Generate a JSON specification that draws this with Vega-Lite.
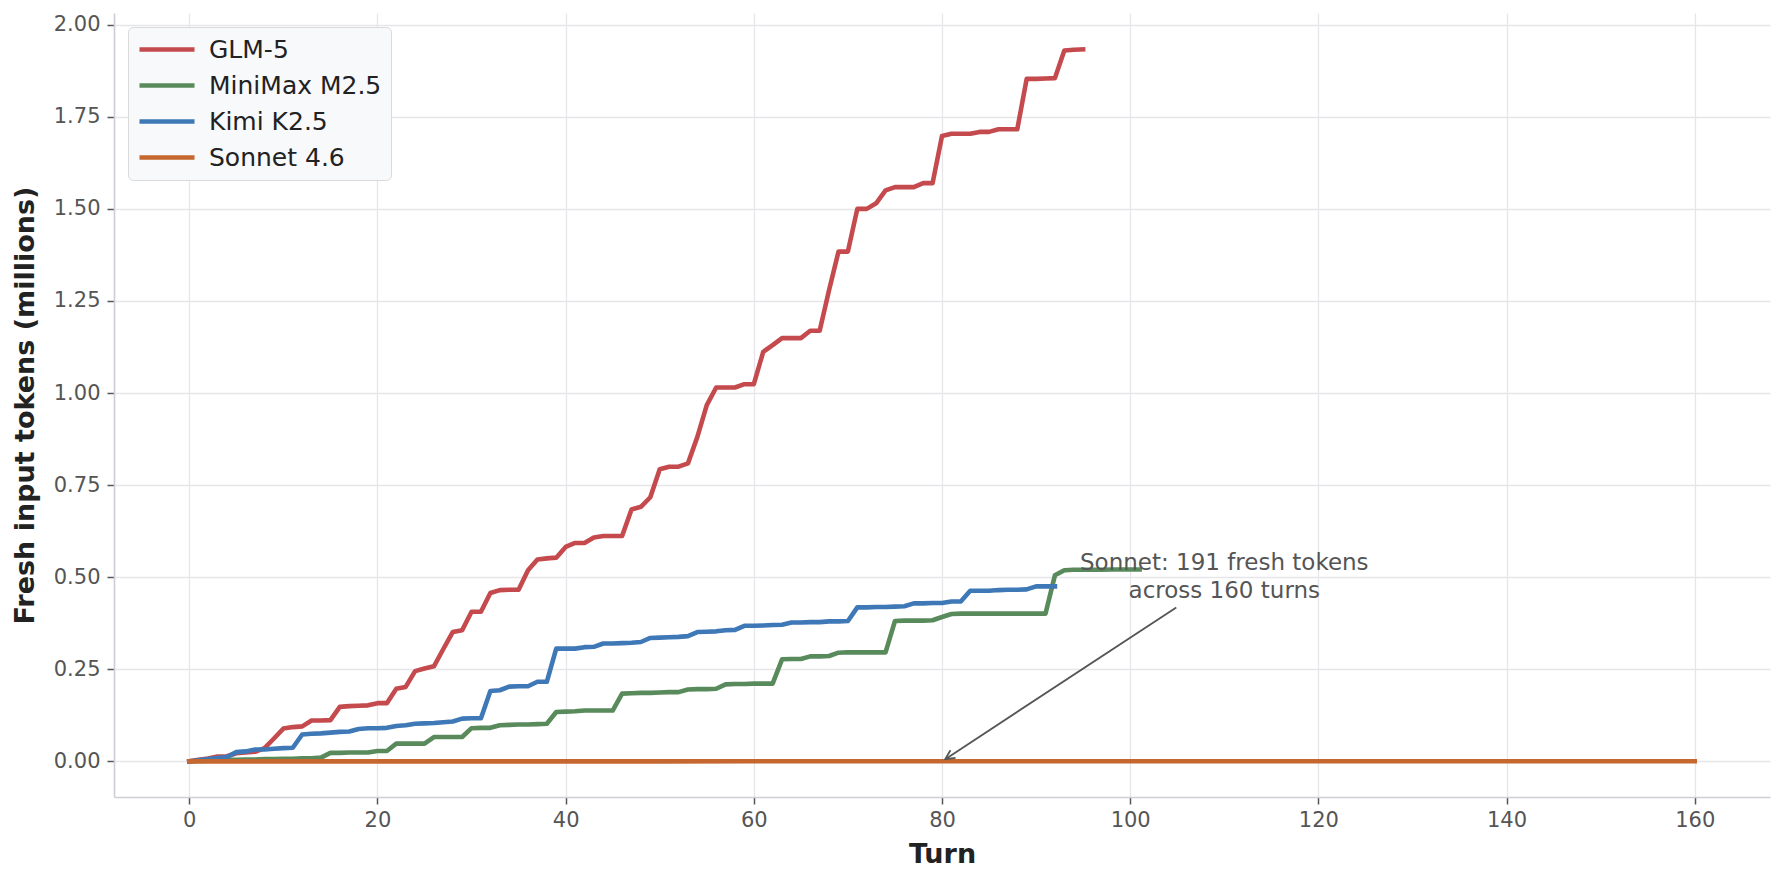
{
"$schema": "https://vega.github.io/schema/vega-lite/v6.json",
"width": 1656, "height": 784,
"autosize": {"type": "none"},
"padding": {"left": 114, "top": 13, "right": 14, "bottom": 87},
"background": "white",
"config": {"font": "DejaVu Sans", "view": {"stroke": null}},
"datasets": {
"lines": [
{"model":"GLM-5","turn":0,"tokens":0},{"model":"GLM-5","turn":1,"tokens":0.004},{"model":"GLM-5","turn":2,"tokens":0.008},{"model":"GLM-5","turn":3,"tokens":0.013},{"model":"GLM-5","turn":4,"tokens":0.014},{"model":"GLM-5","turn":5,"tokens":0.022},{"model":"GLM-5","turn":6,"tokens":0.024},{"model":"GLM-5","turn":7,"tokens":0.026},{"model":"GLM-5","turn":8,"tokens":0.036},{"model":"GLM-5","turn":9,"tokens":0.062},
{"model":"GLM-5","turn":10,"tokens":0.089},{"model":"GLM-5","turn":11,"tokens":0.093},{"model":"GLM-5","turn":12,"tokens":0.095},{"model":"GLM-5","turn":13,"tokens":0.111},{"model":"GLM-5","turn":14,"tokens":0.111},{"model":"GLM-5","turn":15,"tokens":0.112},{"model":"GLM-5","turn":16,"tokens":0.148},{"model":"GLM-5","turn":17,"tokens":0.150},{"model":"GLM-5","turn":18,"tokens":0.151},{"model":"GLM-5","turn":19,"tokens":0.152},
{"model":"GLM-5","turn":20,"tokens":0.158},{"model":"GLM-5","turn":21,"tokens":0.158},{"model":"GLM-5","turn":22,"tokens":0.197},{"model":"GLM-5","turn":23,"tokens":0.202},{"model":"GLM-5","turn":24,"tokens":0.245},{"model":"GLM-5","turn":25,"tokens":0.252},{"model":"GLM-5","turn":26,"tokens":0.258},{"model":"GLM-5","turn":27,"tokens":0.305},{"model":"GLM-5","turn":28,"tokens":0.351},{"model":"GLM-5","turn":29,"tokens":0.356},
{"model":"GLM-5","turn":30,"tokens":0.406},{"model":"GLM-5","turn":31,"tokens":0.406},{"model":"GLM-5","turn":32,"tokens":0.457},{"model":"GLM-5","turn":33,"tokens":0.465},{"model":"GLM-5","turn":34,"tokens":0.466},{"model":"GLM-5","turn":35,"tokens":0.466},{"model":"GLM-5","turn":36,"tokens":0.519},{"model":"GLM-5","turn":37,"tokens":0.548},{"model":"GLM-5","turn":38,"tokens":0.551},{"model":"GLM-5","turn":39,"tokens":0.553},
{"model":"GLM-5","turn":40,"tokens":0.582},{"model":"GLM-5","turn":41,"tokens":0.593},{"model":"GLM-5","turn":42,"tokens":0.593},{"model":"GLM-5","turn":43,"tokens":0.608},{"model":"GLM-5","turn":44,"tokens":0.612},{"model":"GLM-5","turn":45,"tokens":0.612},{"model":"GLM-5","turn":46,"tokens":0.612},{"model":"GLM-5","turn":47,"tokens":0.684},{"model":"GLM-5","turn":48,"tokens":0.691},{"model":"GLM-5","turn":49,"tokens":0.717},
{"model":"GLM-5","turn":50,"tokens":0.793},{"model":"GLM-5","turn":51,"tokens":0.800},{"model":"GLM-5","turn":52,"tokens":0.800},{"model":"GLM-5","turn":53,"tokens":0.809},{"model":"GLM-5","turn":54,"tokens":0.881},{"model":"GLM-5","turn":55,"tokens":0.967},{"model":"GLM-5","turn":56,"tokens":1.015},{"model":"GLM-5","turn":57,"tokens":1.015},{"model":"GLM-5","turn":58,"tokens":1.015},{"model":"GLM-5","turn":59,"tokens":1.024},
{"model":"GLM-5","turn":60,"tokens":1.024},{"model":"GLM-5","turn":61,"tokens":1.112},{"model":"GLM-5","turn":62,"tokens":1.130},{"model":"GLM-5","turn":63,"tokens":1.149},{"model":"GLM-5","turn":64,"tokens":1.149},{"model":"GLM-5","turn":65,"tokens":1.149},{"model":"GLM-5","turn":66,"tokens":1.169},{"model":"GLM-5","turn":67,"tokens":1.169},{"model":"GLM-5","turn":68,"tokens":1.280},{"model":"GLM-5","turn":69,"tokens":1.384},
{"model":"GLM-5","turn":70,"tokens":1.384},{"model":"GLM-5","turn":71,"tokens":1.500},{"model":"GLM-5","turn":72,"tokens":1.500},{"model":"GLM-5","turn":73,"tokens":1.515},{"model":"GLM-5","turn":74,"tokens":1.550},{"model":"GLM-5","turn":75,"tokens":1.559},{"model":"GLM-5","turn":76,"tokens":1.559},{"model":"GLM-5","turn":77,"tokens":1.559},{"model":"GLM-5","turn":78,"tokens":1.570},{"model":"GLM-5","turn":79,"tokens":1.570},
{"model":"GLM-5","turn":80,"tokens":1.698},{"model":"GLM-5","turn":81,"tokens":1.704},{"model":"GLM-5","turn":82,"tokens":1.704},{"model":"GLM-5","turn":83,"tokens":1.704},{"model":"GLM-5","turn":84,"tokens":1.709},{"model":"GLM-5","turn":85,"tokens":1.709},{"model":"GLM-5","turn":86,"tokens":1.716},{"model":"GLM-5","turn":87,"tokens":1.716},{"model":"GLM-5","turn":88,"tokens":1.716},{"model":"GLM-5","turn":89,"tokens":1.853},
{"model":"GLM-5","turn":90,"tokens":1.853},{"model":"GLM-5","turn":91,"tokens":1.854},{"model":"GLM-5","turn":92,"tokens":1.855},{"model":"GLM-5","turn":93,"tokens":1.930},{"model":"GLM-5","turn":94,"tokens":1.932},{"model":"GLM-5","turn":95,"tokens":1.933},
{"model":"MiniMax M2.5","turn":0,"tokens":0},{"model":"MiniMax M2.5","turn":1,"tokens":0.001},{"model":"MiniMax M2.5","turn":2,"tokens":0.002},{"model":"MiniMax M2.5","turn":3,"tokens":0.003},{"model":"MiniMax M2.5","turn":4,"tokens":0.004},{"model":"MiniMax M2.5","turn":5,"tokens":0.004},{"model":"MiniMax M2.5","turn":6,"tokens":0.005},{"model":"MiniMax M2.5","turn":7,"tokens":0.005},{"model":"MiniMax M2.5","turn":8,"tokens":0.006},{"model":"MiniMax M2.5","turn":9,"tokens":0.006},
{"model":"MiniMax M2.5","turn":10,"tokens":0.007},{"model":"MiniMax M2.5","turn":11,"tokens":0.007},{"model":"MiniMax M2.5","turn":12,"tokens":0.008},{"model":"MiniMax M2.5","turn":13,"tokens":0.008},{"model":"MiniMax M2.5","turn":14,"tokens":0.010},{"model":"MiniMax M2.5","turn":15,"tokens":0.023},{"model":"MiniMax M2.5","turn":16,"tokens":0.023},{"model":"MiniMax M2.5","turn":17,"tokens":0.024},{"model":"MiniMax M2.5","turn":18,"tokens":0.024},{"model":"MiniMax M2.5","turn":19,"tokens":0.024},
{"model":"MiniMax M2.5","turn":20,"tokens":0.028},{"model":"MiniMax M2.5","turn":21,"tokens":0.028},{"model":"MiniMax M2.5","turn":22,"tokens":0.048},{"model":"MiniMax M2.5","turn":23,"tokens":0.048},{"model":"MiniMax M2.5","turn":24,"tokens":0.048},{"model":"MiniMax M2.5","turn":25,"tokens":0.048},{"model":"MiniMax M2.5","turn":26,"tokens":0.066},{"model":"MiniMax M2.5","turn":27,"tokens":0.066},{"model":"MiniMax M2.5","turn":28,"tokens":0.066},{"model":"MiniMax M2.5","turn":29,"tokens":0.066},
{"model":"MiniMax M2.5","turn":30,"tokens":0.090},{"model":"MiniMax M2.5","turn":31,"tokens":0.091},{"model":"MiniMax M2.5","turn":32,"tokens":0.091},{"model":"MiniMax M2.5","turn":33,"tokens":0.098},{"model":"MiniMax M2.5","turn":34,"tokens":0.099},{"model":"MiniMax M2.5","turn":35,"tokens":0.100},{"model":"MiniMax M2.5","turn":36,"tokens":0.100},{"model":"MiniMax M2.5","turn":37,"tokens":0.101},{"model":"MiniMax M2.5","turn":38,"tokens":0.102},{"model":"MiniMax M2.5","turn":39,"tokens":0.134},
{"model":"MiniMax M2.5","turn":40,"tokens":0.135},{"model":"MiniMax M2.5","turn":41,"tokens":0.136},{"model":"MiniMax M2.5","turn":42,"tokens":0.138},{"model":"MiniMax M2.5","turn":43,"tokens":0.138},{"model":"MiniMax M2.5","turn":44,"tokens":0.138},{"model":"MiniMax M2.5","turn":45,"tokens":0.138},{"model":"MiniMax M2.5","turn":46,"tokens":0.184},{"model":"MiniMax M2.5","turn":47,"tokens":0.185},{"model":"MiniMax M2.5","turn":48,"tokens":0.186},{"model":"MiniMax M2.5","turn":49,"tokens":0.186},
{"model":"MiniMax M2.5","turn":50,"tokens":0.187},{"model":"MiniMax M2.5","turn":51,"tokens":0.188},{"model":"MiniMax M2.5","turn":52,"tokens":0.188},{"model":"MiniMax M2.5","turn":53,"tokens":0.195},{"model":"MiniMax M2.5","turn":54,"tokens":0.196},{"model":"MiniMax M2.5","turn":55,"tokens":0.196},{"model":"MiniMax M2.5","turn":56,"tokens":0.197},{"model":"MiniMax M2.5","turn":57,"tokens":0.209},{"model":"MiniMax M2.5","turn":58,"tokens":0.210},{"model":"MiniMax M2.5","turn":59,"tokens":0.210},
{"model":"MiniMax M2.5","turn":60,"tokens":0.211},{"model":"MiniMax M2.5","turn":61,"tokens":0.211},{"model":"MiniMax M2.5","turn":62,"tokens":0.211},{"model":"MiniMax M2.5","turn":63,"tokens":0.277},{"model":"MiniMax M2.5","turn":64,"tokens":0.278},{"model":"MiniMax M2.5","turn":65,"tokens":0.278},{"model":"MiniMax M2.5","turn":66,"tokens":0.285},{"model":"MiniMax M2.5","turn":67,"tokens":0.285},{"model":"MiniMax M2.5","turn":68,"tokens":0.286},{"model":"MiniMax M2.5","turn":69,"tokens":0.295},
{"model":"MiniMax M2.5","turn":70,"tokens":0.296},{"model":"MiniMax M2.5","turn":71,"tokens":0.296},{"model":"MiniMax M2.5","turn":72,"tokens":0.296},{"model":"MiniMax M2.5","turn":73,"tokens":0.296},{"model":"MiniMax M2.5","turn":74,"tokens":0.296},{"model":"MiniMax M2.5","turn":75,"tokens":0.381},{"model":"MiniMax M2.5","turn":76,"tokens":0.382},{"model":"MiniMax M2.5","turn":77,"tokens":0.382},{"model":"MiniMax M2.5","turn":78,"tokens":0.382},{"model":"MiniMax M2.5","turn":79,"tokens":0.383},
{"model":"MiniMax M2.5","turn":80,"tokens":0.392},{"model":"MiniMax M2.5","turn":81,"tokens":0.400},{"model":"MiniMax M2.5","turn":82,"tokens":0.401},{"model":"MiniMax M2.5","turn":83,"tokens":0.401},{"model":"MiniMax M2.5","turn":84,"tokens":0.401},{"model":"MiniMax M2.5","turn":85,"tokens":0.401},{"model":"MiniMax M2.5","turn":86,"tokens":0.401},{"model":"MiniMax M2.5","turn":87,"tokens":0.401},{"model":"MiniMax M2.5","turn":88,"tokens":0.401},{"model":"MiniMax M2.5","turn":89,"tokens":0.401},
{"model":"MiniMax M2.5","turn":90,"tokens":0.401},{"model":"MiniMax M2.5","turn":91,"tokens":0.401},{"model":"MiniMax M2.5","turn":92,"tokens":0.505},{"model":"MiniMax M2.5","turn":93,"tokens":0.519},{"model":"MiniMax M2.5","turn":94,"tokens":0.520},{"model":"MiniMax M2.5","turn":95,"tokens":0.520},{"model":"MiniMax M2.5","turn":96,"tokens":0.520},{"model":"MiniMax M2.5","turn":97,"tokens":0.520},{"model":"MiniMax M2.5","turn":98,"tokens":0.521},{"model":"MiniMax M2.5","turn":99,"tokens":0.521},
{"model":"MiniMax M2.5","turn":100,"tokens":0.521},{"model":"MiniMax M2.5","turn":101,"tokens":0.521},
{"model":"Kimi K2.5","turn":0,"tokens":0},{"model":"Kimi K2.5","turn":1,"tokens":0.003},{"model":"Kimi K2.5","turn":2,"tokens":0.006},{"model":"Kimi K2.5","turn":3,"tokens":0.009},{"model":"Kimi K2.5","turn":4,"tokens":0.012},{"model":"Kimi K2.5","turn":5,"tokens":0.025},{"model":"Kimi K2.5","turn":6,"tokens":0.027},{"model":"Kimi K2.5","turn":7,"tokens":0.032},{"model":"Kimi K2.5","turn":8,"tokens":0.032},{"model":"Kimi K2.5","turn":9,"tokens":0.034},
{"model":"Kimi K2.5","turn":10,"tokens":0.036},{"model":"Kimi K2.5","turn":11,"tokens":0.037},{"model":"Kimi K2.5","turn":12,"tokens":0.073},{"model":"Kimi K2.5","turn":13,"tokens":0.075},{"model":"Kimi K2.5","turn":14,"tokens":0.076},{"model":"Kimi K2.5","turn":15,"tokens":0.078},{"model":"Kimi K2.5","turn":16,"tokens":0.080},{"model":"Kimi K2.5","turn":17,"tokens":0.081},{"model":"Kimi K2.5","turn":18,"tokens":0.088},{"model":"Kimi K2.5","turn":19,"tokens":0.090},
{"model":"Kimi K2.5","turn":20,"tokens":0.090},{"model":"Kimi K2.5","turn":21,"tokens":0.091},{"model":"Kimi K2.5","turn":22,"tokens":0.096},{"model":"Kimi K2.5","turn":23,"tokens":0.098},{"model":"Kimi K2.5","turn":24,"tokens":0.102},{"model":"Kimi K2.5","turn":25,"tokens":0.103},{"model":"Kimi K2.5","turn":26,"tokens":0.104},{"model":"Kimi K2.5","turn":27,"tokens":0.106},{"model":"Kimi K2.5","turn":28,"tokens":0.108},{"model":"Kimi K2.5","turn":29,"tokens":0.116},
{"model":"Kimi K2.5","turn":30,"tokens":0.117},{"model":"Kimi K2.5","turn":31,"tokens":0.117},{"model":"Kimi K2.5","turn":32,"tokens":0.191},{"model":"Kimi K2.5","turn":33,"tokens":0.193},{"model":"Kimi K2.5","turn":34,"tokens":0.203},{"model":"Kimi K2.5","turn":35,"tokens":0.204},{"model":"Kimi K2.5","turn":36,"tokens":0.204},{"model":"Kimi K2.5","turn":37,"tokens":0.216},{"model":"Kimi K2.5","turn":38,"tokens":0.216},{"model":"Kimi K2.5","turn":39,"tokens":0.306},
{"model":"Kimi K2.5","turn":40,"tokens":0.306},{"model":"Kimi K2.5","turn":41,"tokens":0.306},{"model":"Kimi K2.5","turn":42,"tokens":0.310},{"model":"Kimi K2.5","turn":43,"tokens":0.311},{"model":"Kimi K2.5","turn":44,"tokens":0.320},{"model":"Kimi K2.5","turn":45,"tokens":0.320},{"model":"Kimi K2.5","turn":46,"tokens":0.321},{"model":"Kimi K2.5","turn":47,"tokens":0.322},{"model":"Kimi K2.5","turn":48,"tokens":0.324},{"model":"Kimi K2.5","turn":49,"tokens":0.335},
{"model":"Kimi K2.5","turn":50,"tokens":0.336},{"model":"Kimi K2.5","turn":51,"tokens":0.337},{"model":"Kimi K2.5","turn":52,"tokens":0.338},{"model":"Kimi K2.5","turn":53,"tokens":0.340},{"model":"Kimi K2.5","turn":54,"tokens":0.351},{"model":"Kimi K2.5","turn":55,"tokens":0.352},{"model":"Kimi K2.5","turn":56,"tokens":0.353},{"model":"Kimi K2.5","turn":57,"tokens":0.356},{"model":"Kimi K2.5","turn":58,"tokens":0.357},{"model":"Kimi K2.5","turn":59,"tokens":0.368},
{"model":"Kimi K2.5","turn":60,"tokens":0.368},{"model":"Kimi K2.5","turn":61,"tokens":0.369},{"model":"Kimi K2.5","turn":62,"tokens":0.370},{"model":"Kimi K2.5","turn":63,"tokens":0.371},{"model":"Kimi K2.5","turn":64,"tokens":0.377},{"model":"Kimi K2.5","turn":65,"tokens":0.377},{"model":"Kimi K2.5","turn":66,"tokens":0.378},{"model":"Kimi K2.5","turn":67,"tokens":0.378},{"model":"Kimi K2.5","turn":68,"tokens":0.380},{"model":"Kimi K2.5","turn":69,"tokens":0.380},
{"model":"Kimi K2.5","turn":70,"tokens":0.381},{"model":"Kimi K2.5","turn":71,"tokens":0.418},{"model":"Kimi K2.5","turn":72,"tokens":0.418},{"model":"Kimi K2.5","turn":73,"tokens":0.419},{"model":"Kimi K2.5","turn":74,"tokens":0.419},{"model":"Kimi K2.5","turn":75,"tokens":0.420},{"model":"Kimi K2.5","turn":76,"tokens":0.421},{"model":"Kimi K2.5","turn":77,"tokens":0.429},{"model":"Kimi K2.5","turn":78,"tokens":0.429},{"model":"Kimi K2.5","turn":79,"tokens":0.430},
{"model":"Kimi K2.5","turn":80,"tokens":0.430},{"model":"Kimi K2.5","turn":81,"tokens":0.434},{"model":"Kimi K2.5","turn":82,"tokens":0.434},{"model":"Kimi K2.5","turn":83,"tokens":0.463},{"model":"Kimi K2.5","turn":84,"tokens":0.463},{"model":"Kimi K2.5","turn":85,"tokens":0.463},{"model":"Kimi K2.5","turn":86,"tokens":0.465},{"model":"Kimi K2.5","turn":87,"tokens":0.466},{"model":"Kimi K2.5","turn":88,"tokens":0.466},{"model":"Kimi K2.5","turn":89,"tokens":0.467},
{"model":"Kimi K2.5","turn":90,"tokens":0.475},{"model":"Kimi K2.5","turn":91,"tokens":0.475},{"model":"Kimi K2.5","turn":92,"tokens":0.475},
{"model":"Sonnet 4.6","turn":0,"tokens":0},{"model":"Sonnet 4.6","turn":10,"tokens":0.000012},{"model":"Sonnet 4.6","turn":20,"tokens":0.000024},{"model":"Sonnet 4.6","turn":30,"tokens":0.000036},{"model":"Sonnet 4.6","turn":40,"tokens":0.000048},{"model":"Sonnet 4.6","turn":50,"tokens":0.00006},{"model":"Sonnet 4.6","turn":60,"tokens":0.000072},{"model":"Sonnet 4.6","turn":70,"tokens":0.000084},{"model":"Sonnet 4.6","turn":80,"tokens":0.000096},
{"model":"Sonnet 4.6","turn":90,"tokens":0.000108},{"model":"Sonnet 4.6","turn":100,"tokens":0.00012},{"model":"Sonnet 4.6","turn":110,"tokens":0.000131},{"model":"Sonnet 4.6","turn":120,"tokens":0.000143},{"model":"Sonnet 4.6","turn":130,"tokens":0.000155},{"model":"Sonnet 4.6","turn":140,"tokens":0.000167},{"model":"Sonnet 4.6","turn":150,"tokens":0.000179},{"model":"Sonnet 4.6","turn":160,"tokens":0.000191}
],
"note": [{"turn": 110, "tokens": 0.5, "label": "Sonnet: 191 fresh tokens\nacross 160 turns"}],
"arrow": [{"x1": 104.9, "y1": 0.418, "x2": 80.35, "y2": 0.006}]
},
"layer": [
{
"data": {"name": "lines"},
"mark": {"type": "line", "strokeCap": "square", "strokeJoin": "round"},
"encoding": {
"x": {"field": "turn", "type": "quantitative", "title": "Turn",
"scale": {"domain": [-8, 168], "nice": false, "zero": false},
"axis": {"values": [0,20,40,60,80,100,120,140,160], "format": "d", "labelFontSize": 21, "labelColor": "#555555", "labelPadding": 5, "labelFlush": false,
"tickColor": "#555555", "tickSize": 7, "tickWidth": 1.5,
"domainColor": "#cdcdd6", "domainWidth": 1.6,
"grid": true, "gridColor": "#e6e6ea", "gridWidth": 1.3,
"titleFontSize": 27, "titleFontWeight": "bold", "titleColor": "#222222", "titlePadding": 11}},
"y": {"field": "tokens", "type": "quantitative", "title": "Fresh input tokens (millions)",
"scale": {"domain": [-0.0968, 2.0318], "nice": false, "zero": false},
"axis": {"values": [0,0.25,0.5,0.75,1,1.25,1.5,1.75,2], "format": ".2f", "labelFontSize": 21, "labelColor": "#555555", "labelPadding": 7, "labelFlush": false,
"tickColor": "#555555", "tickSize": 7, "tickWidth": 1.5,
"domainColor": "#cdcdd6", "domainWidth": 1.6,
"grid": true, "gridColor": "#e6e6ea", "gridWidth": 1.3,
"titleFontSize": 27, "titleFontWeight": "bold", "titleColor": "#222222", "titlePadding": 14}},
"color": {"field": "model", "type": "nominal", "title": null,
"scale": {"domain": ["GLM-5", "MiniMax M2.5", "Kimi K2.5", "Sonnet 4.6"], "range": ["#C44A4E", "#588A5C", "#3E78B6", "#C6672F"]},
"legend": {"orient": "none", "legendX": 14, "legendY": 14, "title": null, "symbolType": "M -2.5 0 L 2.5 0", "symbolSize": 484, "labelFontSize": 25, "labelColor": "#222222", "labelLimit": 600, "labelOffset": 28.5, "fillColor": "#F8F9FB", "strokeColor": "#DADADA", "cornerRadius": 5, "padding": 9, "rowPadding": 9, "symbolOffset": 16.5}},
"strokeWidth": {"field": "model", "type": "nominal", "title": null,
"scale": {"domain": ["GLM-5", "MiniMax M2.5", "Kimi K2.5", "Sonnet 4.6"], "range": [4.6, 4.6, 4.6, 6.2]},
"legend": {"orient": "none", "legendX": 14, "legendY": 14, "title": null, "symbolType": "M -2.5 0 L 2.5 0", "symbolSize": 484, "labelFontSize": 25, "labelColor": "#222222", "labelLimit": 600, "labelOffset": 28.5, "fillColor": "#F8F9FB", "strokeColor": "#DADADA", "cornerRadius": 5, "padding": 9, "rowPadding": 9, "symbolOffset": 16.5}}
}
},
{
"data": {"name": "arrow"},
"mark": {"type": "rule", "color": "#555555", "strokeWidth": 1.8},
"encoding": {
"x": {"field": "x1", "type": "quantitative", "title": "Turn", "scale": {"domain": [-8, 168], "nice": false, "zero": false}},
"y": {"field": "y1", "type": "quantitative", "title": "Fresh input tokens (millions)", "scale": {"domain": [-0.0968, 2.0318], "nice": false, "zero": false}},
"x2": {"field": "x2"},
"y2": {"field": "y2"}
}
},
{
"data": {"name": "arrow"},
"mark": {"type": "point", "shape": "M -0.5 1 L 0 0 L 0.5 1", "angle": 236.7, "size": 338, "filled": false, "stroke": "#555555", "strokeWidth": 1.8, "opacity": 1},
"encoding": {
"x": {"field": "x2", "type": "quantitative", "title": "Turn", "scale": {"domain": [-8, 168], "nice": false, "zero": false}},
"y": {"field": "y2", "type": "quantitative", "title": "Fresh input tokens (millions)", "scale": {"domain": [-0.0968, 2.0318], "nice": false, "zero": false}}
}
},
{
"data": {"name": "note"},
"mark": {"type": "text", "align": "center", "baseline": "middle", "fontSize": 23, "color": "#555555", "lineBreak": "\n", "lineHeight": 27.5, "dy": -13.7},
"encoding": {
"x": {"field": "turn", "type": "quantitative", "title": "Turn", "scale": {"domain": [-8, 168], "nice": false, "zero": false}},
"y": {"field": "tokens", "type": "quantitative", "title": "Fresh input tokens (millions)", "scale": {"domain": [-0.0968, 2.0318], "nice": false, "zero": false}},
"text": {"field": "label"}
}
}
]
}
